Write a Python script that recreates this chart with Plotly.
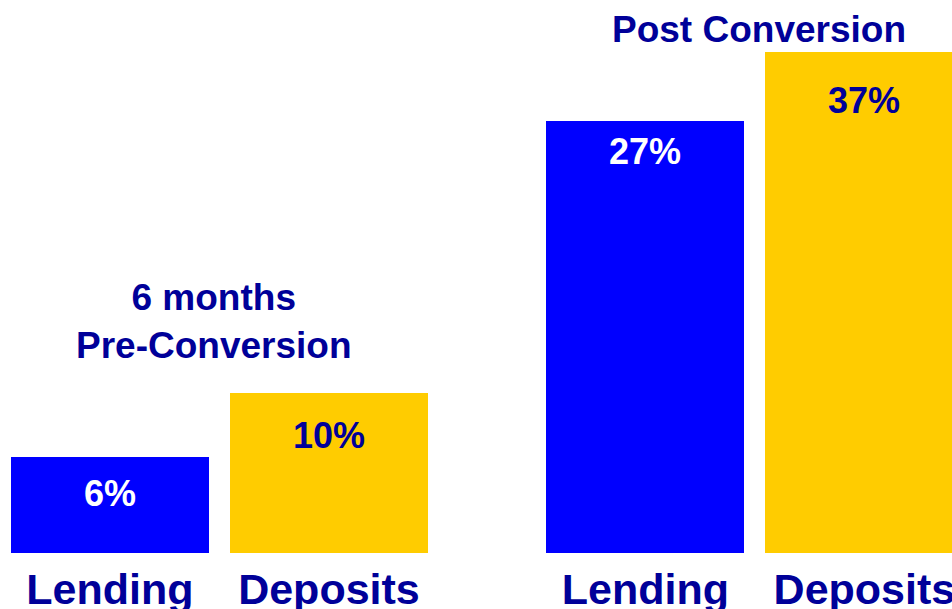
import plotly.graph_objects as go

# data
groups = ["6 months<br>Pre-Conversion", "Post Conversion"]
categories = ["Lending", "Deposits"]
values = [[6, 10], [27, 37]]  # percent
bar_colors = ["#0000FF", "#FFCC00"]
label_colors = ["#FFFFFF", "#000099"]

NAVY = "#000099"
FONT = "Liberation Sans, Arial, sans-serif"
GROUP_GAP = 2.445   # distance between the first bars of the two groups
Y_TOP = 31.3        # visible top of the value axis (the 37% bar runs past it)

# vertical nudge (px) of each value label below its bar top
label_shift = [[-14, -20], [-8, -26]]

fig = go.Figure()

tick_vals, tick_text = [], []
for g, grp in enumerate(groups):
    for i, cat in enumerate(categories):
        x = g * GROUP_GAP + i
        v = values[g][i]
        fig.add_trace(go.Bar(
            x=[x], y=[v], width=0.904,
            marker=dict(color=bar_colors[i], line=dict(width=0)),
            showlegend=False, hoverinfo="skip",
        ))
        tick_vals.append(x)
        tick_text.append(cat)
        # value label inside the top of the bar
        fig.add_annotation(
            x=x, y=min(v, Y_TOP), xref="x", yref="y",
            text=f"<b>{v}%</b>", showarrow=False,
            yanchor="top", yshift=label_shift[g][i],
            font=dict(family=FONT, size=36, color=label_colors[i]),
        )

# group titles
fig.add_annotation(
    x=0.475, y=max(values[0]), xref="x", yref="y",
    text=f"<b>{groups[0]}</b>", showarrow=False,
    yanchor="bottom", yshift=25,
    font=dict(family=FONT, size=37, color=NAVY),
)
fig.add_annotation(
    x=GROUP_GAP + 0.52, y=1, xref="x", yref="paper",
    text=f"<b>{groups[1]}</b>", showarrow=False,
    yanchor="bottom", yshift=0,
    font=dict(family=FONT, size=37, color=NAVY),
)

fig.update_layout(
    width=952, height=609,
    margin=dict(l=0, r=0, t=52, b=56),
    paper_bgcolor="white", plot_bgcolor="white",
    bargap=0,
)
fig.update_xaxes(
    range=[-0.502, 3.845], tickvals=tick_vals, ticktext=tick_text,
    tickfont=dict(family=FONT, size=43, color=NAVY, weight="bold"),
    ticklabelstandoff=7, ticklabeloverflow="allow", automargin=False,
    showgrid=False, zeroline=False, showline=False, ticks="",
)
fig.update_yaxes(
    range=[0, Y_TOP], visible=False, showgrid=False, zeroline=False,
    automargin=False,
)

# drop the default page margin so the figure fills the window
fig.write_html(
    "out.html",
    config={"displayModeBar": False},
    post_script="document.body.style.margin='0';",
)
